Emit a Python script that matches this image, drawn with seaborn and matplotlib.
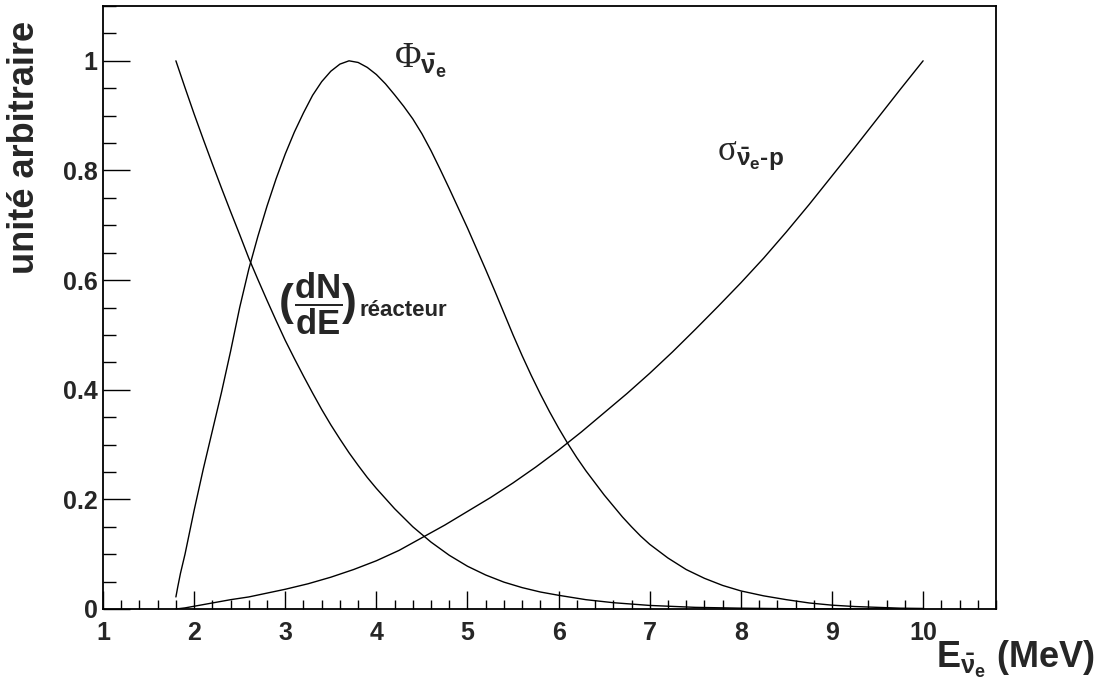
import numpy as np
import pandas as pd
import matplotlib
matplotlib.use("Agg")
import matplotlib.pyplot as plt
import seaborn as sns
from matplotlib.ticker import MultipleLocator

# ---- data ----
energy_reacteur = [1.8, 1.9, 2.0, 2.1, 2.2, 2.3, 2.4, 2.5, 2.6, 2.7, 2.8, 2.9, 3.0, 3.1, 3.2, 3.3,
                   3.4, 3.5, 3.6, 3.7, 3.8, 3.9, 4.0, 4.2, 4.4, 4.6, 4.8, 5.0, 5.2, 5.4, 5.6,
                   5.8, 6.0, 6.3, 6.6, 7.0, 7.5, 8.0, 8.5, 9.0, 9.5, 10.0]
flux_reacteur = [1.00, 0.951, 0.903, 0.857, 0.812, 0.768, 0.725, 0.683, 0.640, 0.601, 0.563,
                 0.526, 0.490, 0.457, 0.425, 0.394, 0.364, 0.336, 0.310, 0.285, 0.262, 0.240,
                 0.220, 0.183, 0.150, 0.122, 0.098, 0.078, 0.062, 0.049, 0.039, 0.031, 0.025,
                 0.017, 0.0115, 0.0065, 0.003, 0.0015, 0.0006, 0.0003, 0.0001, 0.0]

energy_spectre = [1.8, 1.82, 1.85, 1.9, 1.95, 2.0, 2.1, 2.2, 2.3, 2.4, 2.5, 2.6, 2.7, 2.8, 2.9,
                  3.0, 3.1, 3.2, 3.3, 3.4, 3.5, 3.6, 3.7, 3.8, 3.9, 4.0, 4.1, 4.2, 4.3, 4.4,
                  4.5, 4.6, 4.7, 4.8, 4.9, 5.0, 5.1, 5.2, 5.3, 5.4, 5.5, 5.6, 5.7, 5.8, 5.9,
                  6.0, 6.1, 6.2, 6.3, 6.4, 6.5, 6.6, 6.7, 6.8, 6.9, 7.0, 7.2, 7.4, 7.6, 7.8,
                  8.0, 8.25, 8.5, 8.75, 9.0, 9.25, 9.5, 9.75, 10.0]
spectre_detecte = [0.022, 0.04, 0.065, 0.10, 0.14, 0.18, 0.255, 0.325, 0.395, 0.47, 0.55, 0.62,
                   0.68, 0.735, 0.785, 0.83, 0.87, 0.905, 0.937, 0.962, 0.981, 0.994, 1.0,
                   0.997, 0.988, 0.975, 0.958, 0.938, 0.917, 0.894, 0.867, 0.836, 0.802, 0.767,
                   0.731, 0.695, 0.657, 0.619, 0.58, 0.54, 0.50, 0.462, 0.426, 0.392, 0.36, 0.33,
                   0.302, 0.276, 0.252, 0.23, 0.208, 0.188, 0.168, 0.15, 0.133, 0.118, 0.093,
                   0.072, 0.056, 0.043, 0.033, 0.024, 0.017, 0.011, 0.007, 0.0045, 0.003,
                   0.0015, 0.001]

energy_section = [1.8, 1.9, 2.0, 2.2, 2.4, 2.6, 2.8, 3.0, 3.25, 3.5, 3.75, 4.0, 4.25, 4.5, 4.75,
                  5.0, 5.25, 5.5, 5.75, 6.0, 6.25, 6.5, 6.75, 7.0, 7.25, 7.5, 7.75, 8.0, 8.25,
                  8.5, 8.75, 9.0, 9.25, 9.5, 9.75, 10.0]
section_efficace = [0.0, 0.002, 0.005, 0.011, 0.017, 0.022, 0.029, 0.036, 0.046, 0.058, 0.072,
                    0.088, 0.107, 0.13, 0.153, 0.178, 0.203, 0.23, 0.259, 0.29, 0.323, 0.358,
                    0.393, 0.43, 0.469, 0.51, 0.552, 0.595, 0.64, 0.688, 0.738, 0.79, 0.842,
                    0.895, 0.948, 1.0]

x_ticks = [1, 2, 3, 4, 5, 6, 7, 8, 9, 10]
y_ticks = [0, 0.2, 0.4, 0.6, 0.8, 1.0]
y_tick_labels = ["0", "0.2", "0.4", "0.6", "0.8", "1"]

# ---- style ----
sns.set_theme(style="ticks")
plt.rcParams["font.family"] = ["Liberation Sans", "DejaVu Sans"]
plt.rcParams["font.weight"] = "bold"
plt.rcParams["mathtext.fontset"] = "custom"
plt.rcParams["mathtext.rm"] = "Liberation Serif:weight=normal"
plt.rcParams["mathtext.bf"] = "Liberation Sans:bold"
plt.rcParams["mathtext.it"] = "Liberation Sans:bold"
plt.rcParams["mathtext.sf"] = "Liberation Sans:bold"
plt.rcParams["mathtext.default"] = "bf"

df = pd.concat([
    pd.DataFrame({"E": energy_reacteur, "v": flux_reacteur, "courbe": "reacteur"}),
    pd.DataFrame({"E": energy_spectre, "v": spectre_detecte, "courbe": "spectre"}),
    pd.DataFrame({"E": energy_section, "v": section_efficace, "courbe": "section"}),
], ignore_index=True)

fig = plt.figure(figsize=(10.99, 6.80), dpi=100)
ax = fig.add_axes([103 / 1099, 71 / 680, 893 / 1099, 603 / 680])

sns.lineplot(data=df, x="E", y="v", hue="courbe", sort=False, estimator=None,
             palette={"reacteur": "black", "spectre": "black", "section": "black"},
             linewidth=1.0, legend=False, ax=ax)

ax.set_xlim(1, 10.8)
ax.set_ylim(0, 1.1)
ax.set_xticks(x_ticks)
ax.set_xticklabels([str(t) for t in x_ticks])
ax.set_yticks(y_ticks)
ax.set_yticklabels(y_tick_labels)
ax.xaxis.set_minor_locator(MultipleLocator(0.2))
ax.yaxis.set_minor_locator(MultipleLocator(0.05))
ax.set_xlabel("")
ax.set_ylabel("")

for s in ax.spines.values():
    s.set_visible(True)
    s.set_linewidth(1.3)
    s.set_color("black")

ax.tick_params(which="both", direction="in", top=False, right=False, width=1.0, color="black")
ax.tick_params(axis="x", which="major", length=13, pad=9, labelsize=18)
ax.tick_params(axis="x", which="minor", length=6.5)
ax.tick_params(axis="y", which="major", length=19.5, pad=4, labelsize=18)
ax.tick_params(axis="y", which="minor", length=9.5)
for lab in ax.get_xticklabels() + ax.get_yticklabels():
    lab.set_fontweight("bold")

# annotations
ax.text(4.19, 0.987, r"$\mathrm{\Phi}_{\bar{\nu}_{e}}$", fontsize=26, ha="left", va="baseline")
ax.text(7.74, 0.819, "$\\mathrm{\\sigma}_{\\bar{\\nu}_{e}\u2010p}$", fontsize=25, ha="left", va="baseline")

p_open = ax.text(2.93, 0.557, "(", fontsize=32, ha="left", va="center", fontweight="bold")
frac = ax.annotate(r"$\dfrac{dN}{dE}$", xy=(1.0, 0.5), xycoords=p_open, ha="left", va="center",
                   fontsize=25)
p_close = ax.annotate(")", xy=(1.0, 0.5), xycoords=frac, ha="left", va="center", fontsize=32,
                      fontweight="bold", annotation_clip=False)
ax.annotate("réacteur", xy=(1.0, 0.2), xycoords=p_close, xytext=(2, 0), textcoords="offset points",
            ha="left", va="baseline", fontsize=16, fontweight="bold")

fig.text(25 / 1099, 1 - 147 / 680, "unité arbitraire", rotation=90, ha="center", va="center",
         fontsize=26, fontweight="bold")
fig.text(1095 / 1099, 12 / 680, r"$E_{\bar{\nu}_{e}}$ (MeV)", ha="right", va="baseline",
         fontsize=26, fontweight="bold")

fig.savefig("out.png", dpi=100)
